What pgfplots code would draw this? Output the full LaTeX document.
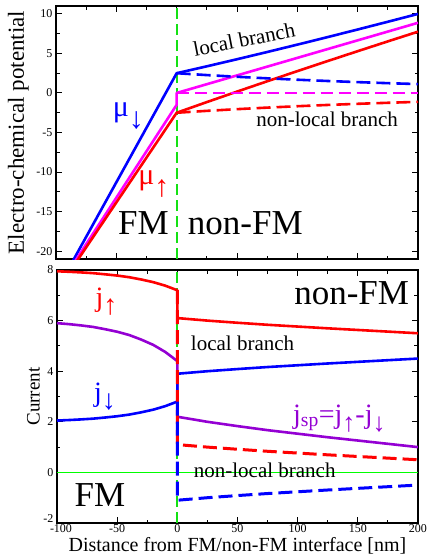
\documentclass[border=0pt]{standalone}
\usepackage{fontspec}
\setmainfont{Liberation Serif}
\usepackage{pgfplots}
\pgfplotsset{compat=1.18}
\newcommand\fs[1]{\fontsize{#1}{#1}\selectfont}
\newcommand\sarr[3]{\raisebox{#2}{\fontsize{#1}{#1}\selectfont #3}}
\definecolor{xred}{RGB}{255,0,0}
\definecolor{xblue}{RGB}{0,0,255}
\definecolor{xmag}{RGB}{255,0,255}
\definecolor{xviolet}{RGB}{148,0,211}
\definecolor{xgreen}{RGB}{0,255,0}
\definecolor{xgreend}{RGB}{20,225,20}
\pgfplotsset{
  myax/.style={
    scale only axis,
    xmin=-100, xmax=200,
    minor x tick num=1,
    minor y tick num=1,
    tick align=inside,
    major tick length=6pt,
    minor tick length=3.5pt,
    every tick/.style={black, line width=1pt},
    axis line style={line width=1.6pt},
    tick label style={font=\fs{12}},
    xticklabel style={yshift=2pt},
    /pgf/number format/assume math mode=true,
    label style={font=\fs{20}},
    clip=true,
  },
  cur/.style={line width=2.6pt, line join=round},
  dsh/.style={line width=2.6pt, dash pattern=on 14pt off 6pt},
}
\begin{document}
\begin{tikzpicture}
% ---------------- top panel ----------------
\begin{axis}[myax, name=top, at={(0pt,0pt)}, anchor=north west,
  width=362pt, height=253pt,
  xtick={-100,-50,0,50,100,150,200},
  ymin=-21, ymax=11,
  ytick={-20,-15,-10,-5,0,5,10},
  xticklabels={},
  ylabel={Electro-chemical potential},
  ylabel style={at={(axis description cs:-0.104,0.5)}, anchor=center, font=\fs{23}},
]
\addplot[xgreend, line width=1.8pt, dash pattern=on 11pt off 5pt] coordinates {(0,-21) (0,11)};
% solid (local branch)
\addplot[xblue, cur] coordinates {(-100,-25.1) (0,2.5) (25,3.371) (50,4.266) (75,5.180) (100,6.114) (125,7.063) (150,8.028) (175,9.007) (200,9.998)};
\addplot[xmag, cur] coordinates {(-100,-25.0) (0,-1.5) (0,0) (200,8.875)};
\addplot[xred, cur] coordinates {(-100,-25.2) (0,-2.5) (25,-1.153) (50,0.172) (75,1.476) (100,2.762) (125,4.031) (150,5.284) (175,6.525) (200,7.752)};
% dashed (non-local branch)
\addplot[xblue, dsh] coordinates {(0,2.5) (25,2.262) (50,2.047) (75,1.852) (100,1.676) (125,1.516) (150,1.372) (175,1.241) (200,1.123)};
\addplot[xmag, dsh, dash pattern=on 12pt off 6pt] coordinates {(0,0) (200,0)};
\addplot[xred, dsh] coordinates {(0,-2.5) (25,-2.262) (50,-2.047) (75,-1.852) (100,-1.676) (125,-1.516) (150,-1.372) (175,-1.241) (200,-1.123)};
\node[anchor=base, rotate=11, font=\fs{21}] at (axis cs:57,5.9) {local branch};
\node[anchor=base, font=\fs{21}] at (axis cs:124.7,-4.22) {non-local branch};
\node[anchor=base west, inner sep=0pt, text=xblue, font=\fs{30}] at (axis cs:-53,-3) {μ\sarr{30}{-12pt}{↓}};
\node[anchor=base west, inner sep=0pt, text=xred, font=\fs{30}] at (axis cs:-32,-11.6) {μ\sarr{30}{-12pt}{↑}};
\node[anchor=base, font=\fs{35}] at (axis cs:-27.6,-17.9) {FM};
\node[anchor=base, font=\fs{35}] at (axis cs:56.9,-17.9) {non-FM};
\end{axis}
% ---------------- bottom panel ----------------
\begin{axis}[myax, name=bot, at={(1pt,-264pt)}, anchor=north west,
  width=361pt, height=253pt,
  xtick={-50,0,50,100,150,200},
  extra x ticks={-100},
  extra x tick style={xticklabel style={xshift=4pt}},
  ymin=-2, ymax=8,
  ytick={0,2,4,6,8},
  extra y ticks={-2},
  extra y tick style={yticklabel style={yshift=4pt}},
  xlabel={Distance from FM/non-FM interface [nm]},
  xlabel style={at={(axis description cs:0.5,0)}, anchor=base, yshift=-28.5pt, font=\fs{20}},
  ylabel={Current},
  ylabel style={at={(axis description cs:-0.065,0.5)}, anchor=center, font=\fs{19}},
]
\addplot[xgreen, line width=1pt] coordinates {(-100,0) (200,0)};
\addplot[xgreend, line width=1.8pt, dash pattern=on 11pt off 5pt] coordinates {(0,-2) (0,8)};
% local branch (solid)
\addplot[xred, cur] coordinates {(-100,7.95) (-90,7.93) (-80,7.905) (-70,7.875) (-60,7.83) (-50,7.78) (-40,7.715) (-30,7.625) (-20,7.52) (-10,7.38) (0,7.20) (0,6.1) (25,6.0) (50,5.915) (75,5.835) (100,5.765) (125,5.695) (150,5.63) (175,5.565) (200,5.5)};
\addplot[xviolet, cur] coordinates {(-100,5.90) (-90,5.86) (-80,5.81) (-70,5.75) (-60,5.66) (-50,5.56) (-40,5.43) (-30,5.25) (-20,5.04) (-10,4.76) (0,4.40) (0,2.2) (25,2.0) (50,1.83) (75,1.67) (100,1.53) (125,1.39) (150,1.26) (175,1.13) (200,1.0)};
\addplot[xblue, cur] coordinates {(-100,2.05) (-90,2.07) (-80,2.095) (-70,2.125) (-60,2.17) (-50,2.22) (-40,2.285) (-30,2.375) (-20,2.48) (-10,2.62) (0,2.80) (0,3.9) (25,4.0) (50,4.085) (75,4.165) (100,4.235) (125,4.305) (150,4.37) (175,4.435) (200,4.5)};
% non-local branch (dashed)
\addplot[xred, dsh, line width=3pt] coordinates {(0,7.20) (0,1.1) (25,1.0) (50,0.915) (75,0.835) (100,0.765) (125,0.695) (150,0.63) (175,0.565) (200,0.5)};
\addplot[xblue, dsh, line width=3pt] coordinates {(0,2.80) (0,-1.1) (25,-1.0) (50,-0.915) (75,-0.835) (100,-0.765) (125,-0.695) (150,-0.63) (175,-0.565) (200,-0.5)};
\node[anchor=base, font=\fs{21}] at (axis cs:54.2,4.81) {local branch};
\node[anchor=base, font=\fs{21}] at (axis cs:72.6,-0.19) {non-local branch};
\node[anchor=base, font=\fs{35}] at (axis cs:144.9,6.62) {non-FM};
\node[anchor=base, font=\fs{35}] at (axis cs:-64.3,-1.36) {FM};
\node[anchor=base west, inner sep=0pt, text=xred, font=\fs{28}] at (axis cs:-68,6.55) {j\sarr{28}{-8pt}{↑}};
\node[anchor=base west, inner sep=0pt, text=xblue, font=\fs{28}] at (axis cs:-69.3,2.82) {j\sarr{28}{-8pt}{↓}};
\node[anchor=base west, inner sep=0pt, text=xviolet, font=\fs{28}] at (axis cs:96.1,1.95) {j\textsubscript{sp}=j\sarr{26}{-8pt}{↑}-j\sarr{26}{-8pt}{↓}};
\end{axis}
\pgfresetboundingbox
\path (-56pt,6pt) rectangle (373pt,-549pt);
\end{tikzpicture}
\end{document}
